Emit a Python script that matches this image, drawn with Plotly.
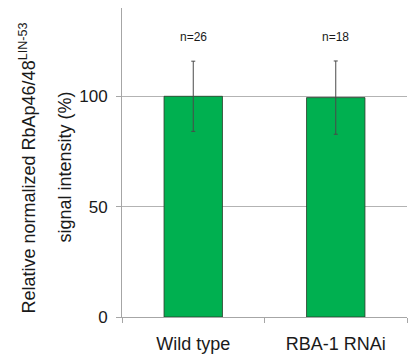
import plotly.graph_objects as go

categories = ["Wild type", "RBA-1 RNAi"]
values = [100.0, 99.4]
errors = [15.9, 16.6]
n_labels = ["n=26", "n=18"]
n_label_y = [127, 127]
y_ticks = [0, 50, 100]

font = "Liberation Sans, Arial, sans-serif"
txt = "#1a1a1a"

fig = go.Figure()
fig.add_trace(go.Bar(
    x=categories, y=values,
    marker=dict(color="#00B050", line=dict(color="#2a3a2a", width=0.8)),
    error_y=dict(type="data", array=errors, visible=True, color="#4a4a4a", thickness=1, width=2),
    width=0.41,
))
for c, lab, yy in zip(categories, n_labels, n_label_y):
    fig.add_annotation(x=c, y=yy, text=lab, showarrow=False,
                       font=dict(size=12, color=txt, family=font))

fig.add_annotation(xref="paper", yref="paper", x=0, y=0.5, xanchor="center", yanchor="middle",
                   xshift=-94, yshift=-6, textangle=-90, showarrow=False,
                   text="Relative normalized RbAp46/48<sup>LIN-53</sup>",
                   font=dict(size=18, color=txt, family=font))
fig.add_annotation(xref="paper", yref="paper", x=0, y=0.5, xanchor="center", yanchor="middle",
                   xshift=-58, yshift=-5, textangle=-90, showarrow=False,
                   text="signal intensity (%)",
                   font=dict(size=18, color=txt, family=font))

fig.update_layout(
    width=417, height=356,
    margin=dict(l=114, r=18, t=0, b=47),
    paper_bgcolor="white", plot_bgcolor="white",
    showlegend=False,
    xaxis=dict(type="category", range=[-0.5, 1.5], tickson="boundaries",
               showline=True, linecolor="#a6a6a6", linewidth=1,
               ticks="outside", ticklen=5, tickcolor="#a6a6a6", ticklabelstandoff=10,
               showgrid=False, tickfont=dict(size=18, color=txt, family=font)),
    yaxis=dict(range=[0, 140], tickvals=y_ticks, showgrid=True, gridcolor="#b3b3b3", gridwidth=1,
               showline=True, linecolor="#a6a6a6", linewidth=1, zeroline=False,
               ticks="outside", ticklen=5, tickcolor="#a6a6a6", ticklabelstandoff=5,
               tickfont=dict(size=17, color=txt, family=font)),
)
fig.write_html("out.html")
